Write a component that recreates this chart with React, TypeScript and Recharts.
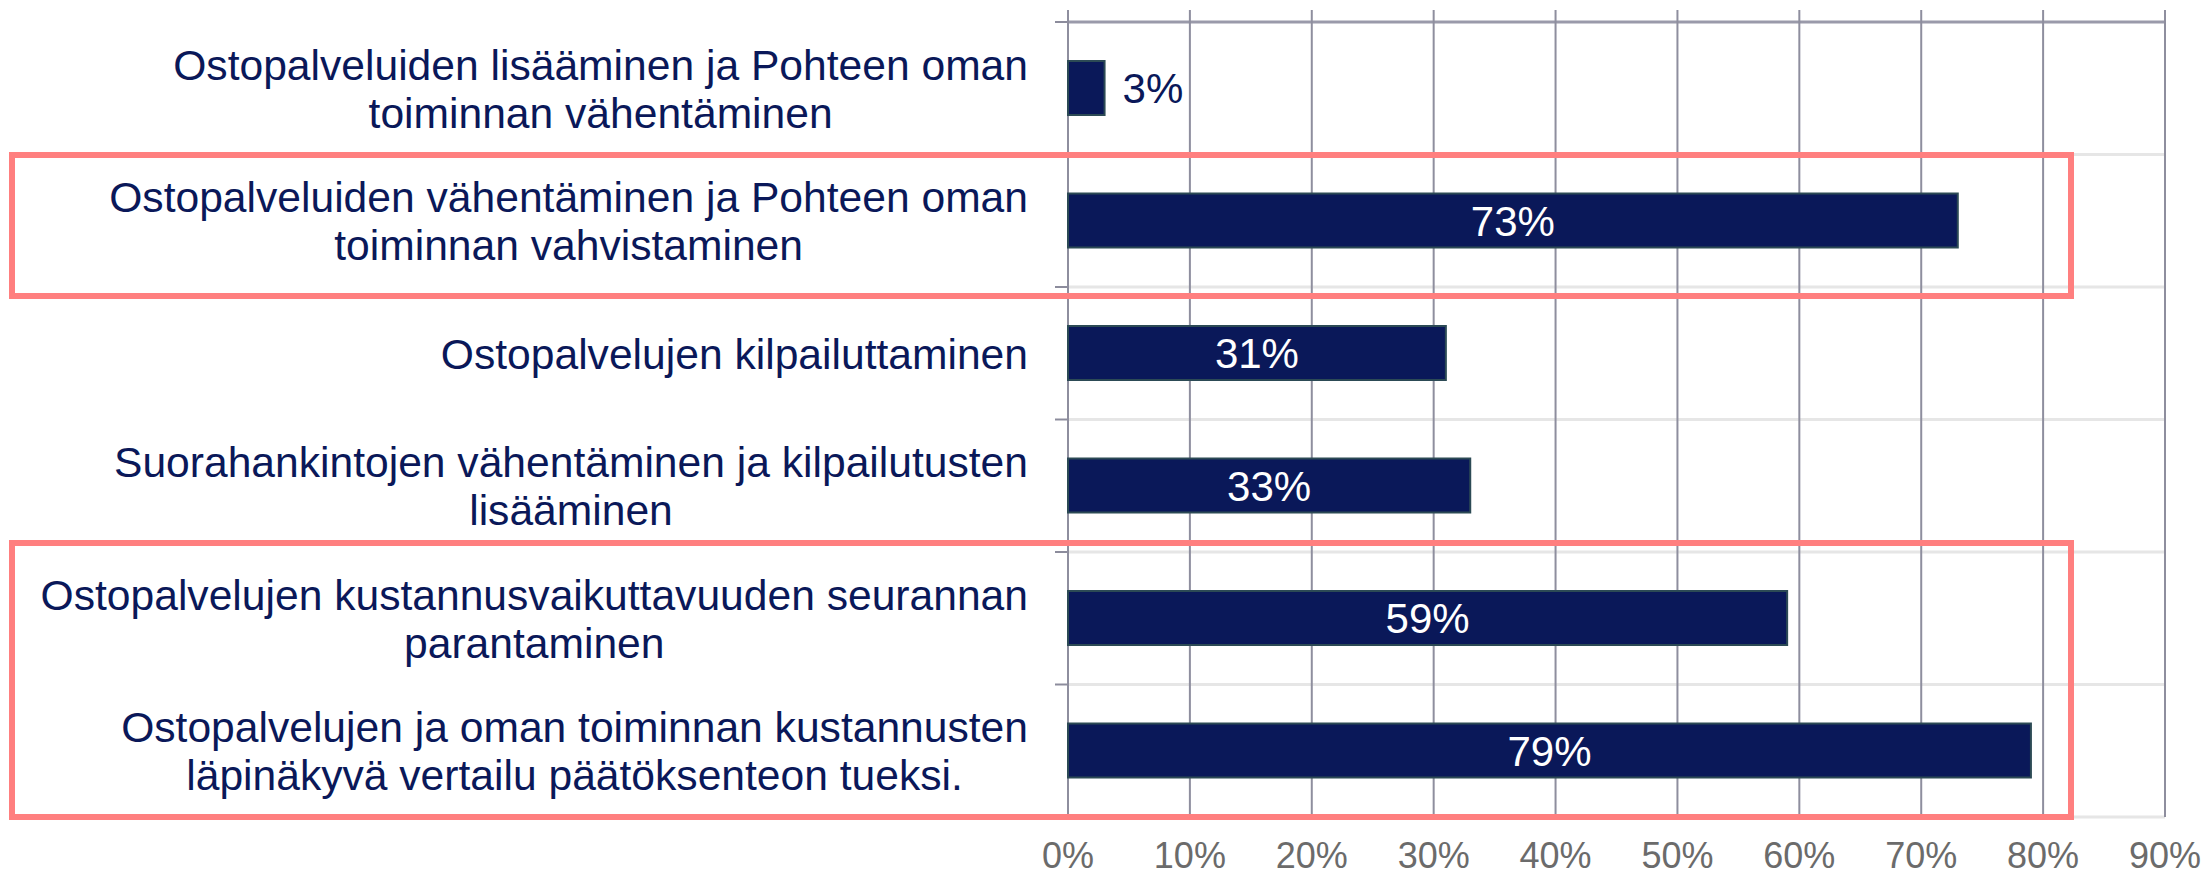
import React from 'react';
import { BarChart, Bar, XAxis, YAxis, CartesianGrid, LabelList } from 'recharts';

// categories top -> bottom, "\n" marks the line break used in the reference
const categories = [
  'Ostopalveluiden lisääminen ja Pohteen oman\ntoiminnan vähentäminen',
  'Ostopalveluiden vähentäminen ja Pohteen oman\ntoiminnan vahvistaminen',
  'Ostopalvelujen kilpailuttaminen',
  'Suorahankintojen vähentäminen ja kilpailutusten\nlisääminen',
  'Ostopalvelujen kustannusvaikuttavuuden seurannan\nparantaminen',
  'Ostopalvelujen ja oman toiminnan kustannusten\nläpinäkyvä vertailu päätöksenteon tueksi.',
];
const shares = [3, 73, 31, 33, 59, 79];
const xTicks = [0, 10, 20, 30, 40, 50, 60, 70, 80, 90];

const W = 2206;
const H = 876;
const NAVY = '#0a1859';
const FONT = '"Liberation Sans", Arial, sans-serif';
const CAT_SIZE = 42.6;

const data = categories.map((name, i) => ({ name, value: shares[i] }));

// highlight boxes drawn over the chart (annotation, not data)
const highlightBoxes = [
  { x: 12, y: 155, w: 2059, h: 141 },
  { x: 12, y: 543, w: 2059, h: 274 },
];

let ctx: CanvasRenderingContext2D | null = null;
function textWidth(s: string, size: number) {
  if (!ctx) ctx = document.createElement('canvas').getContext('2d');
  if (!ctx) return s.length * size * 0.5;
  ctx.font = `${size}px "Liberation Sans", Arial, sans-serif`;
  return ctx.measureText(s).width;
}

function YTick(props: any) {
  const { x, y, payload } = props;
  const lines = String(payload.value).split('\n');
  const blockW = Math.max(...lines.map((l) => textWidth(l, CAT_SIZE)));
  const cx = x - blockW / 2;
  const lh = 48;
  const y0 = y - ((lines.length - 1) * lh) / 2;
  return (
    <text textAnchor="middle" fill={NAVY} fontSize={CAT_SIZE} fontFamily={FONT}>
      {lines.map((l, i) => (
        <tspan key={i} x={cx} y={y0 + i * lh} dy="0.36em">
          {l}
        </tspan>
      ))}
    </text>
  );
}

function XTick(props: any) {
  const { x, y, payload } = props;
  return (
    <text x={x} y={y + 51} textAnchor="middle" fill="#6b6b6b" fontSize={36} fontFamily={FONT}>
      {`${payload.value}%`}
    </text>
  );
}

const renderHLine = (p: any) => (
  <g key={p.key}>
    <line x1={p.x1} x2={p.x2} y1={p.y1} y2={p.y2} stroke={p.index === 0 ? '#9a9aaa' : '#e6e6e6'} strokeWidth={3} />
    <line x1={p.x1 - 13} x2={p.x1} y1={p.y1} y2={p.y2} stroke="#8c8c9c" strokeWidth={2} />
  </g>
);

const renderVLine = (p: any) => (
  <line key={p.key} x1={p.x1} x2={p.x2} y1={p.y1 - 12} y2={p.y2} stroke="#8e8e9e" strokeWidth={2} />
);

const renderLabel = (props: any) => {
  const { x, y, width, height, value } = props;
  const outside = value < 10;
  return (
    <text
      x={outside ? x + width + 18 : x + width / 2}
      y={y + height / 2}
      dy="0.36em"
      textAnchor={outside ? 'start' : 'middle'}
      fill={outside ? NAVY : '#ffffff'}
      fontSize={42}
      fontFamily={FONT}
    >
      {`${value}%`}
    </text>
  );
};

export default function App() {
  return (
    <div style={{ position: 'absolute', left: 0, top: 0, width: W, height: H, background: '#fff' }}>
      <BarChart width={W} height={H} data={data} layout="vertical" margin={{ top: 22, right: 41, bottom: 0, left: 0 }}>
        <CartesianGrid
          vertical={false}
          horizontal={renderHLine}
          horizontalCoordinatesGenerator={({ offset }: any) =>
            categories.map((_, i) => offset.top + (i * offset.height) / categories.length).concat(offset.top + offset.height)
          }
        />
        <CartesianGrid horizontal={false} vertical={renderVLine} />
        <XAxis
          type="number"
          domain={[0, 90]}
          ticks={xTicks}
          axisLine={false}
          tickLine={false}
          tickSize={0}
          tickMargin={0}
          height={59}
          tick={<XTick />}
        />
        <YAxis
          type="category"
          dataKey="name"
          width={1068}
          axisLine={false}
          tickLine={false}
          tickSize={0}
          tickMargin={40}
          interval={0}
          tick={<YTick />}
        />
        <Bar dataKey="value" fill={NAVY} stroke="#2c4a55" strokeWidth={2} barSize={54} isAnimationActive={false}>
          <LabelList dataKey="value" content={renderLabel} />
        </Bar>
      </BarChart>
      <svg width={W} height={H} style={{ position: 'absolute', left: 0, top: 0, pointerEvents: 'none' }}>
        {highlightBoxes.map((b, i) => (
          <rect key={i} x={b.x} y={b.y} width={b.w} height={b.h} fill="none" stroke="#ff7f7f" strokeWidth={6} />
        ))}
      </svg>
    </div>
  );
}
